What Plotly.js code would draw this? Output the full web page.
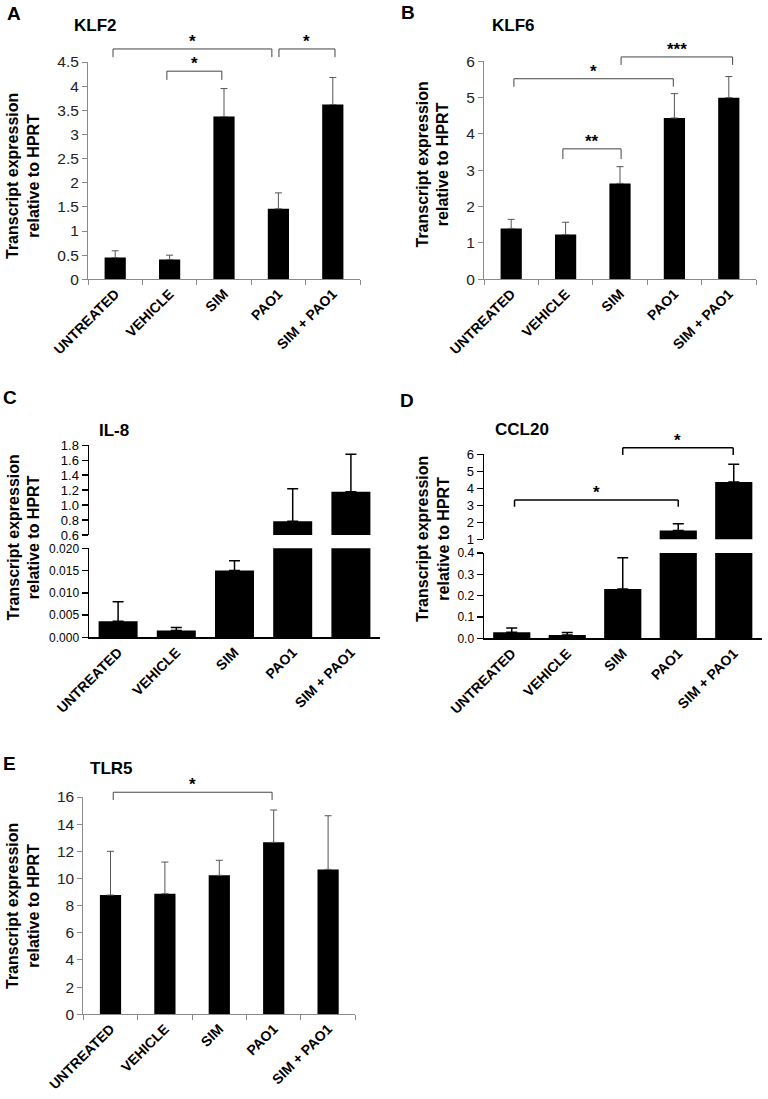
<!DOCTYPE html>
<html><head><meta charset="utf-8">
<script src="https://cdn.plot.ly/plotly-3.0.1.min.js"></script>
<style>html,body{margin:0;padding:0;background:#fff}#chart{width:768px;height:1099px}</style>
</head><body><div id="chart"></div>
<script>
// ---------- DATA ----------
const categories = ['UNTREATED', 'VEHICLE', 'SIM', 'PAO1', 'SIM + PAO1'];
const klf2Mean  = [0.45, 0.41, 3.37, 1.46, 3.62];
const klf2Err   = [0.14, 0.09, 0.58, 0.33, 0.56];
const klf6Mean  = [1.40, 1.23, 2.64, 4.44, 5.00];
const klf6Err   = [0.25, 0.34, 0.46, 0.67, 0.58];
const il8Mean   = [0.0036, 0.0015, 0.0150, 0.785, 1.18];
const il8Err    = [0.0044, 0.0007, 0.0022, 0.435, 0.50];
const ccl20Mean = [0.028, 0.016, 0.231, 1.52, 4.37];
const ccl20Err  = [0.020, 0.011, 0.147, 0.40, 1.05];
const tlr5Mean  = [8.78, 8.88, 10.23, 12.66, 10.67];
const tlr5Err   = [3.22, 2.33, 1.11, 2.38, 3.95];
const panelLetters = ['A', 'B', 'C', 'D', 'E'];
const geneNames = ['KLF2', 'KLF6', 'IL-8', 'CCL20', 'TLR5'];
const yTitleText = 'Transcript expression<br>relative to HPRT';
// significance comparisons: [from category index, to category index, label]
const sigKLF2  = [[0, 3, '*'], [1, 2, '*'], [3, 4, '*']];
const sigKLF6  = [[0, 3, '*'], [2, 4, '***'], [1, 2, '**']];
const sigCCL20 = [[0, 3, '*'], [2, 4, '*']];
const sigTLR5  = [[0, 3, '*']];

// ---------- LAYOUT HELPERS ----------
const W = 768, H = 1099;
const fx = p => p / W;
const fy = p => 1 - p / H;
const xd = (a, b) => [fx(a), fx(b)];
const yd = (top, bot) => [fy(bot), fy(top)];
const zeros = categories.map(() => 0);
const SANS = 'Liberation Sans, Arial, sans-serif';
const NARROW = 'Liberation Sans Narrow, Arial Narrow, Liberation Sans, Arial, sans-serif';

const excelStyle = {bar: 0.39, errColor: '#555', errThick: 1, errW: 3.5};
const prismStyle = {bar: 0.67, errColor: '#000', errThick: 1.5, errW: 5.5};

function barTrace(xa, ya, means, errs, st) {
  return {
    type: 'bar', x: categories, y: means, xaxis: xa, yaxis: ya,
    width: st.bar, marker: {color: '#000', line: {width: 0}},
    error_y: {type: 'data', symmetric: false, array: errs, arrayminus: zeros,
              color: st.errColor, thickness: st.errThick, width: st.errW},
    hoverinfo: 'skip', showlegend: false
  };
}

const traces = [
  barTrace('x', 'y', klf2Mean, klf2Err, excelStyle),
  barTrace('x2', 'y2', klf6Mean, klf6Err, excelStyle),
  barTrace('x3', 'y3', il8Mean, il8Err, prismStyle),
  barTrace('x3', 'y4', il8Mean, il8Err, prismStyle),
  barTrace('x4', 'y5', ccl20Mean, ccl20Err, prismStyle),
  barTrace('x4', 'y6', ccl20Mean, ccl20Err, prismStyle),
  barTrace('x5', 'y7', tlr5Mean, tlr5Err, excelStyle)
];

function excelX(dom, anchor) {
  return {domain: dom, anchor: anchor, type: 'category', range: [-0.5, 4.5],
    showline: true, linecolor: '#8a8a8a', linewidth: 1,
    ticks: 'outside', tickson: 'boundaries', ticklen: 5, tickcolor: '#8a8a8a',
    tickangle: -45, showgrid: false, zeroline: false,
    tickfont: {family: SANS, size: 14, color: '#000', weight: 'bold'}};
}
function excelY(dom, anchor, r, dt) {
  return {domain: dom, anchor: anchor, range: r, dtick: dt, tick0: 0,
    showline: true, linecolor: '#8a8a8a', linewidth: 1,
    ticks: 'outside', ticklen: 5, tickcolor: '#8a8a8a',
    showgrid: false, zeroline: false,
    tickfont: {family: SANS, size: 15.5, color: '#222'}};
}
function prismX(dom, anchor) {
  return {domain: dom, anchor: anchor, type: 'category', range: [-0.5, 4.5],
    showline: true, linecolor: '#000', linewidth: 1.5, ticks: '',
    tickangle: -45, showgrid: false, zeroline: false,
    tickfont: {family: SANS, size: 14, color: '#000', weight: 'bold'}};
}
function prismY(dom, anchor, r, dt, fmt) {
  return {domain: dom, anchor: anchor, range: r, dtick: dt, tick0: r[0], tickformat: fmt,
    showline: true, linecolor: '#000', linewidth: 1.5,
    ticks: 'outside', ticklen: 6, tickwidth: 1.5, tickcolor: '#000',
    showgrid: false, zeroline: false,
    tickfont: {family: NARROW, size: 12, color: '#000'}};
}

const layout = {
  width: W, height: H, margin: {l: 0, r: 0, t: 0, b: 0},
  paper_bgcolor: '#fff', plot_bgcolor: 'rgba(0,0,0,0)', showlegend: false,
  xaxis:  excelX(xd(88, 360), 'y'),
  yaxis:  excelY(yd(62, 279.3), 'x', [0, 4.5], 0.5),
  xaxis2: excelX(xd(484, 756), 'y2'),
  yaxis2: excelY(yd(61.3, 279.3), 'x2', [0, 6], 1),
  xaxis3: prismX(xd(89, 380), 'y3'),
  yaxis3: prismY(yd(548.3, 637.3), 'x3', [0, 0.02], 0.005, '.3f'),
  yaxis4: prismY(yd(445.3, 535), 'x3', [0.6, 1.8], 0.2, '.1f'),
  xaxis4: prismX(xd(484, 761.5), 'y5'),
  yaxis5: prismY(yd(553, 638.3), 'x4', [0, 0.4], 0.1, '.1f'),
  yaxis6: prismY(yd(454.3, 539.3), 'x4', [1, 6], 1, 'd'),
  xaxis5: excelX(xd(83.3, 355.3), 'y7'),
  yaxis7: excelY(yd(797, 1014.3), 'x5', [0, 16], 2),
  shapes: [], annotations: []
};
layout.yaxis4.tickfont = Object.assign({}, layout.yaxis4.tickfont, {size: 13});
layout.yaxis6.tickfont = Object.assign({}, layout.yaxis6.tickfont, {size: 13});

// brackets: geometry per comparison {top, leg, dx0, dx1} in axis value units
function addBrackets(sigs, geom, xa, ya, range, color, lw) {
  const fr = v => (v - range[0]) / (range[1] - range[0]);
  sigs.forEach((s, i) => {
    const g = geom[i];
    const x0 = s[0] + g.dx0, x1 = s[1] + g.dx1;
    const common = {type: 'line', xref: xa, yref: ya + ' domain', line: {color: color, width: lw}, layer: 'above'};
    layout.shapes.push(Object.assign({x0: x0, x1: x0, y0: fr(g.leg), y1: fr(g.top)}, common));
    layout.shapes.push(Object.assign({x0: x0, x1: x1, y0: fr(g.top), y1: fr(g.top)}, common));
    layout.shapes.push(Object.assign({x0: x1, x1: x1, y0: fr(g.leg), y1: fr(g.top)}, common));
    layout.annotations.push({xref: xa, yref: ya + ' domain', x: (x0 + x1) / 2, y: fr(g.top),
      xanchor: 'center', yanchor: 'bottom', yshift: -4, showarrow: false, text: s[2],
      font: {family: SANS, size: 17, color: '#000', weight: 'bold'}});
  });
}
addBrackets(sigKLF2, [{top: 4.77, leg: 4.60, dx0: -0.04, dx1: -0.12},
                      {top: 4.31, leg: 4.13, dx0: -0.05, dx1: -0.04},
                      {top: 4.77, leg: 4.60, dx0: 0.01, dx1: 0.04}], 'x', 'y', [0, 4.5], '#444', 1);
addBrackets(sigKLF6, [{top: 5.52, leg: 5.30, dx0: 0.05, dx1: -0.02},
                      {top: 6.12, leg: 5.90, dx0: 0.02, dx1: 0.07},
                      {top: 3.59, leg: 3.31, dx0: -0.05, dx1: 0.02}], 'x2', 'y2', [0, 6], '#444', 1);
addBrackets(sigCCL20, [{top: 3.31, leg: 2.92, dx0: 0.05, dx1: 0.0},
                       {top: 6.39, leg: 5.96, dx0: 0.0, dx1: -0.01}], 'x4', 'y6', [1, 6], '#000', 1.5);
addBrackets(sigTLR5, [{top: 16.35, leg: 15.78, dx0: 0.05, dx1: -0.03}], 'x5', 'y7', [0, 16], '#444', 1);

// panel letters, gene titles, y-axis titles
const letterPos = [[14, 13], [407.5, 12.5], [9.5, 397.5], [407, 400], [9, 763]];
const genePos = [[95, 25], [513, 25], [113.5, 430], [521.5, 429], [111.5, 768]];
const yTitlePos = [[23, 176], [432.5, 165], [23.5, 538], [433, 539], [23, 906]];
panelLetters.forEach((L, i) => {
  layout.annotations.push({xref: 'paper', yref: 'paper', x: fx(letterPos[i][0]), y: fy(letterPos[i][1]),
    xanchor: 'center', yanchor: 'middle', showarrow: false, text: L,
    font: {family: SANS, size: 19, color: '#000', weight: 'bold'}});
  layout.annotations.push({xref: 'paper', yref: 'paper', x: fx(genePos[i][0]), y: fy(genePos[i][1]),
    xanchor: 'center', yanchor: 'middle', showarrow: false, text: geneNames[i],
    font: {family: SANS, size: 17, color: '#000', weight: 'bold'}});
  layout.annotations.push({xref: 'paper', yref: 'paper', x: fx(yTitlePos[i][0]), y: fy(yTitlePos[i][1]),
    xanchor: 'center', yanchor: 'middle', showarrow: false, textangle: -90, text: yTitleText,
    font: {family: SANS, size: 16, color: '#000', weight: 'bold'}});
});

Plotly.newPlot('chart', traces, layout, {staticPlot: true, displayModeBar: false});
</script>
</body></html>
